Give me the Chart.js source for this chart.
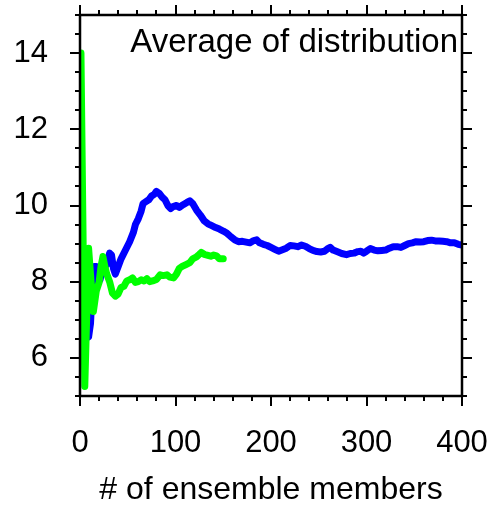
<!DOCTYPE html>
<html>
<head>
<meta charset="utf-8">
<script src="https://cdn.jsdelivr.net/npm/chart.js@4"></script>
<style>
  html, body { margin: 0; padding: 0; background: #fff; }
</style>
</head>
<body>
<canvas id="avgChart" width="490" height="509"></canvas>
<script>
// running average vs. ensemble size, two ensembles
var membersBlue = [1, 3, 6, 9, 11, 13, 15, 17, 19, 21, 23, 25, 28, 31, 33, 35, 37, 40, 43, 47,
    52, 56, 58, 61, 64, 66, 69, 72, 75, 78, 80, 83, 86, 89, 92, 95, 98, 101, 104, 108,
    112, 115, 118, 122, 126, 130, 134, 138, 142, 146, 150, 154, 158, 162, 166, 170, 174, 178, 182, 185,
    188, 192, 196, 200, 204, 208, 212, 216, 220, 224, 228, 232, 236, 240, 244, 248, 252, 256, 259, 262,
    265, 269, 274, 279, 283, 287, 291, 294, 297, 300, 304, 308, 312, 316, 320, 324, 328, 332, 336, 340,
    344, 348, 352, 356, 360, 364, 368, 372, 376, 380, 384, 388, 392, 396, 400];
var averageBlue = [7.0, 6.8, 6.7, 6.55, 6.9, 7.9, 8.4, 8.4, 8.15, 8.05, 8.3, 8.45, 8.45, 8.75, 8.7, 8.35, 8.2, 8.4, 8.6, 8.8,
    9.05, 9.3, 9.5, 9.65, 9.85, 10.05, 10.1, 10.15, 10.25, 10.3, 10.37, 10.32, 10.22, 10.15, 10.0, 9.92, 9.98, 10.0, 9.95, 10.02,
    10.08, 10.12, 10.05, 9.88, 9.75, 9.6, 9.52, 9.47, 9.42, 9.38, 9.33, 9.27, 9.18, 9.1, 9.05, 9.06, 9.04, 9.02, 9.08, 9.1,
    9.02, 8.98, 8.95, 8.9, 8.85, 8.8, 8.84, 8.88, 8.95, 8.94, 8.92, 8.96, 8.93, 8.87, 8.82, 8.79, 8.78, 8.8, 8.86, 8.9,
    8.83, 8.79, 8.74, 8.71, 8.74, 8.75, 8.79, 8.8, 8.75, 8.8, 8.87, 8.83, 8.81, 8.82, 8.83, 8.88, 8.92, 8.92, 8.9, 8.95,
    9.0, 9.02, 9.05, 9.04, 9.05, 9.08, 9.09, 9.07, 9.07, 9.06, 9.05, 9.02, 9.02, 8.98, 8.96];

var membersGreen = [1, 5, 9, 11, 14, 17, 20, 22, 24, 26, 28, 31, 34, 37, 40, 43, 46, 49, 52, 55,
    58, 61, 64, 67, 70, 73, 76, 80, 84, 87, 91, 94, 98, 101, 104, 107, 111, 115, 118, 122,
    125, 127, 130, 133, 137, 140, 143, 146, 150];
var averageGreen = [14.0, 5.25, 8.88, 8.2, 7.22, 7.75, 7.98, 8.4, 8.66, 8.4, 8.2, 8.0, 7.7, 7.62, 7.68, 7.85, 7.88, 8.02, 8.05, 8.1,
    7.98, 8.0, 8.05, 8.02, 8.08, 8.0, 8.02, 8.06, 8.18, 8.16, 8.18, 8.12, 8.1, 8.2, 8.35, 8.4, 8.45, 8.5, 8.6, 8.65,
    8.72, 8.77, 8.72, 8.7, 8.67, 8.7, 8.68, 8.6, 8.6];

var xTickValues = [0, 100, 200, 300, 400];
var yTickValues = [6, 8, 10, 12, 14];

function toPoints(xs, ys) {
    return xs.map(function (x, i) { return { x: x, y: ys[i] }; });
}

var fontFamily = '"Liberation Sans", Arial, Helvetica, sans-serif';

// box frame with major/minor ticks on all four sides, plus the corner title
var frameTicks = {
    id: 'frameTicks',
    afterDatasetsDraw: function (chart) {
        var ctx = chart.ctx;
        var a = chart.chartArea;
        var xs = chart.scales.x;
        var ys = chart.scales.y;
        var v, p, len;
        ctx.save();
        ctx.strokeStyle = '#000';
        ctx.lineWidth = 2;
        ctx.beginPath();
        for (v = 0; v <= 400; v += 20) {
            p = Math.round(xs.getPixelForValue(v));
            len = (v % 100 === 0) ? 10 : 5;
            ctx.moveTo(p, a.bottom); ctx.lineTo(p, a.bottom + len);
            ctx.moveTo(p, a.top); ctx.lineTo(p, a.top - len);
        }
        for (v = 5; v <= 15; v += 0.5) {
            p = Math.round(ys.getPixelForValue(v));
            len = (v % 2 === 0) ? 10 : 5;
            ctx.moveTo(a.left, p); ctx.lineTo(a.left - len, p);
            ctx.moveTo(a.right, p); ctx.lineTo(a.right + len, p);
        }
        ctx.stroke();
        ctx.lineWidth = 2.5;
        ctx.strokeRect(a.left, a.top, a.right - a.left, a.bottom - a.top);

        ctx.fillStyle = '#000';
        ctx.font = '33px ' + fontFamily;
        ctx.textAlign = 'right';
        ctx.textBaseline = 'alphabetic';
        ctx.fillText('Average of distribution', a.right - 4, a.top + 37);
        ctx.restore();
    }
};

document.addEventListener("DOMContentLoaded", function () {
    var ctx = document.getElementById('avgChart').getContext('2d');
    Chart.defaults.font.family = fontFamily;

    new Chart(ctx, {
        type: 'line',
        data: {
            datasets: [{
                data: toPoints(membersGreen, averageGreen),
                borderColor: '#00ff00',
                borderWidth: 7,
                pointRadius: 0,
                tension: 0,
                borderJoinStyle: 'round',
                borderCapStyle: 'round'
            }, {
                data: toPoints(membersBlue, averageBlue),
                borderColor: '#0000ff',
                borderWidth: 7,
                pointRadius: 0,
                tension: 0,
                borderJoinStyle: 'round',
                borderCapStyle: 'round'
            }]
        },
        options: {
            responsive: false,
            animation: false,
            layout: { padding: { top: 15, right: 28, left: 0, bottom: 0 } },
            plugins: {
                legend: { display: false },
                tooltip: { enabled: false }
            },
            scales: {
                x: {
                    type: 'linear',
                    min: 0,
                    max: 400,
                    afterFit: function (s) {
                        s.height = 113;
                        s.paddingLeft = 0;
                        s.paddingRight = 0;
                    },
                    afterBuildTicks: function (s) {
                        s.ticks = xTickValues.map(function (v) { return { value: v }; });
                    },
                    grid: { display: true, drawOnChartArea: false, drawTicks: true, tickLength: 10, color: 'rgba(0,0,0,0)' },
                    border: { display: false },
                    ticks: { color: '#000', font: { size: 31 }, padding: 19, maxRotation: 0 },
                    title: {
                        display: true,
                        text: '# of ensemble members',
                        color: '#000',
                        font: { size: 32 },
                        padding: 0
                    }
                },
                y: {
                    type: 'linear',
                    min: 5,
                    max: 15,
                    afterFit: function (s) {
                        s.width = 80;
                        s.paddingTop = 0;
                        s.paddingBottom = 0;
                    },
                    afterBuildTicks: function (s) {
                        s.ticks = yTickValues.map(function (v) { return { value: v }; });
                    },
                    grid: { display: true, drawOnChartArea: false, drawTicks: true, tickLength: 10, color: 'rgba(0,0,0,0)' },
                    border: { display: false },
                    ticks: { color: '#000', font: { size: 31 }, padding: 22 }
                }
            }
        },
        plugins: [frameTicks]
    });
});
</script>
</body>
</html>
